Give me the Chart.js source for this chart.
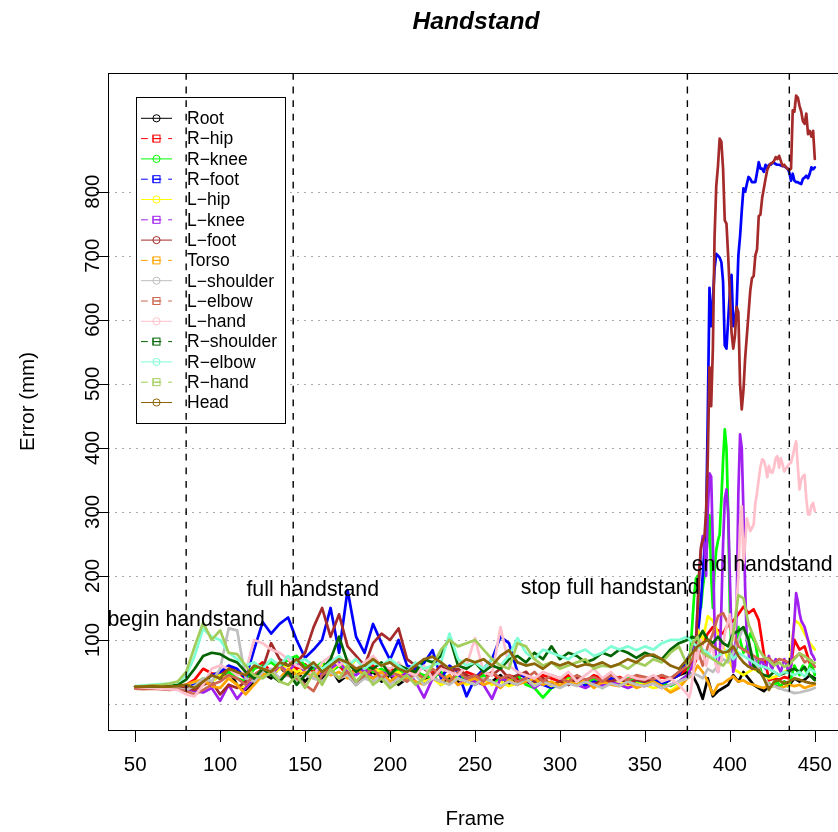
<!DOCTYPE html>
<html><head><meta charset="utf-8">
<script src="https://cdn.jsdelivr.net/npm/chart.js@4.4.1/dist/chart.umd.min.js"></script>
<style>html,body{margin:0;padding:0;overflow:hidden;background:#fff;width:838px;height:832px}canvas{display:block}</style>
</head><body>
<canvas id="c" width="850" height="832" style="width:850px;height:832px"></canvas>
<script>
// ---------- data ----------
const framesMain = [50,55,60,65,70,75,80,85,90,95,100,105,110,115,120,125,130,135,140,145,150,155,160,165,170,175,180,185,190,195,200,205,210,215,220,225,230,235,240,245,250,255,260,265,270,275,280,285,290,295,300,305,310,315,320,325,330,335,340,345,350,355,360,365,370,375];
const framesEndCoarse = [378,381,384,387,390,393,396,399,402,405,408,411,414,417,420,423,426,429,432,435,438,441,444,447,450];
const framesEndFine = [376,377,378,379,380,381,382,383,384,385,386,387,388,389,390,391,392,393,394,395,396,397,398,399,400,401,402,403,404,405,406,407,408,409,410,411,412,413,414,415,416,417,418,419,420,421,422,423,424,425,426,427,428,429,430,431,432,433,434,435,436,437,438,439,440,441,442,443,444,445,446,447,448,449,450];

const seriesNames = ['Root','R\u2212hip','R\u2212knee','R\u2212foot','L\u2212hip','L\u2212knee','L\u2212foot','Torso','L\u2212shoulder','L\u2212elbow','L\u2212hand','R\u2212shoulder','R\u2212elbow','R\u2212hand','Head'];
const seriesColors = ['#000000','#FF0000','#00FF00','#0000FF','#FFFF00','#A020F0','#A52A2A','#FFA500','#BEBEBE','#CD6650','#FFC0CB','#006400','#7FFFD4','#A2CD5A','#8B6508'];

const rootMain = [27,27,26,27,26,27,28,24,33,45, 40,52,30,22,35,48,40,58,45,52, 35,50,40,55,35,45,30,42,50,35, 45,30,40,50,35,45,30,40,35,45, 30,40,35,45,30,40,35,30,40,25, 35,30,40,35,30,40,35,30,38,32, 40,35,30,38,45,50];
const rootEnd = [45,30,8,40,12,20,25,30,45,35,50,40,30,25,20,28,30,25,35,30,40,35,38,45,40];

const rHipMain = [27,28,27,28,27,28,30,38,55,48, 45,58,50,40,55,65,50,60,70,55, 62,50,65,55,60,45,55,50,60,45, 55,50,45,55,40,50,45,55,40,50, 45,40,50,35,45,40,50,35,45,40, 35,45,40,35,45,40,38,42,36,44, 40,35,42,38,45,55];
const rHipEnd = [55,75,95,110,120,115,110,125,130,140,152,142,148,131,79,37,40,38,42,40,100,85,90,64,48];

const rKneeMain = [27,26,27,26,27,26,25,30,40,35, 45,50,40,35,55,60,65,55,70,75, 60,55,65,50,60,55,70,60,50,55, 45,55,40,50,45,40,50,35,45,40, 35,45,30,40,35,45,30,25,10,25, 30,40,35,30,40,25,35,30,40,35, 30,38,32,28,35,45];
const rKneeEnd = [60,90,130,170,195,200,170,150,180,200, 230,260,295,200,150,210,240,255,265,320, 380,429,400,300,150,80,60,70,90,120, 100,90,80,85,90,100,110,105,100,95, 80,65,55,45,40,35,30,32,30,28, 30,32,35,30,28,32,35,30,28,30, 40,50,60,55,50,45,55,60,55,50, 50,60,68,55,45];

const rFootMain = [27,27,26,27,27,28,26,30,35,45, 50,60,55,40,85,128,110,125,135,100, 72,85,100,150,80,178,105,80,125,95, 69,100,60,55,64,84,40,60,50,12, 40,55,70,105,95,50,40,35,30,25, 35,30,40,28,35,30,40,35,30,38, 35,40,32,38,45,70];
const rFootEnd = [75,80,85,90,100,110,130,160,200,240, 280,450,650,590,630,680,703,700,697,690, 660,560,555,600,643,670,590,600,621,700, 730,770,805,800,812,823,820,815,815,815, 830,846,836,836,831,842,836,842,842,845, 845,843,842,842,841,840,840,838,836,830, 817,828,817,815,815,813,812,820,822,825, 821,828,838,835,838];

const lHipMain = [27,26,27,26,27,26,22,20,30,35, 45,40,30,25,40,50,45,55,60,50, 55,45,60,50,65,55,70,60,55,50, 45,50,40,45,35,40,30,35,40,30, 35,40,30,35,28,32,38,30,35,28, 32,38,30,35,28,33,30,35,28,32, 30,25,28,20,30,45];
const lHipEnd = [60,116,100,137,130,110,90,70,55,50,45,50,55,50,45,40,42,45,50,55,131,125,110,95,85];

const lKneeMain = [27,26,27,26,27,26,24,20,18,25, 5,30,8,25,40,55,45,60,50,65, 50,60,45,55,65,50,45,55,40,50, 45,40,50,35,10,40,35,45,30,40, 35,30,8,40,35,30,40,25,35,30, 28,35,30,25,32,28,35,30,25,30, 28,32,25,30,35,45];
const lKneeEnd = [50,55,60,80,100,150,200,240,262,250, 200,300,360,355,250,120,60,50,70,150, 250,320,335,300,200,100,50,60,150,330, 421,400,300,180,100,80,60,55,65,70, 60,55,65,70,60,55,65,75,60,55, 65,70,60,55,50,60,70,65,55,50, 60,100,131,173,160,142,130,125,120,110, 100,90,79,75,69];

const lFootMain = [27,27,26,27,26,27,25,22,30,35, 15,30,25,35,45,55,95,70,60,65, 80,120,150,105,140,90,75,60,95,110, 100,118,70,60,55,45,60,50,55,45, 40,50,45,55,40,45,50,35,40,30, 35,30,40,35,30,38,35,40,32,38, 35,40,45,38,50,58];
const lFootEnd = [60,65,70,75,90,150,210,245,255,260, 300,382,526,465,555,730,809,840,883,878, 836,755,750,700,640,580,555,575,620,612, 500,460,490,540,575,610,645,665,668,700, 710,762,764,790,805,820,834,840,844,845, 848,854,851,856,848,840,842,838,836,834, 836,927,925,950,947,934,925,910,906,922, 890,895,886,895,851];

const torsoMain = [27,26,27,26,27,28,30,35,38,28, 25,40,30,15,30,45,50,40,55,45, 50,40,55,45,50,40,55,45,40,50, 35,45,40,35,30,40,35,45,30,35, 40,30,35,25,38,30,35,40,30,35, 28,35,30,38,25,35,30,28,35,25, 30,35,28,18,25,40];
const torsoEnd = [45,60,50,35,15,30,32,38,43,35,37,32,30,27,25,30,28,25,27,30,28,30,25,28,30];

const lShoulderMain = [27,26,27,26,25,24,22,28,40,35, 55,118,115,40,35,50,55,40,45,35, 45,40,35,50,40,45,30,40,35,45, 30,40,35,45,30,40,35,30,40,35, 30,40,35,28,35,30,40,28,35,30, 25,32,28,35,30,25,32,28,35,30, 28,32,25,30,35,40];
const lShoulderEnd = [48,45,40,55,50,60,70,65,80,100,120,95,70,55,40,30,28,25,22,20,17,18,20,22,25];

const lElbowMain = [24,23,24,23,22,23,20,15,22,30, 35,45,40,30,45,55,50,60,45,40, 30,20,45,55,40,50,35,45,55,40, 50,45,35,50,40,55,45,35,50,40, 45,35,50,40,45,35,40,50,35,45, 40,35,45,38,42,35,45,40,38,45, 42,38,45,40,50,60];
const lElbowEnd = [70,85,60,90,110,137,142,125,110,90,85,80,75,70,69,72,64,70,68,64,72,79,65,70,58];

const lHandMain = [27,26,25,24,23,22,15,12,30,55, 60,55,45,50,100,95,85,80,70,60, 55,45,65,75,60,70,55,65,75,60, 55,65,50,45,60,40,55,50,45,60, 103,50,45,120,60,50,45,40,50,45, 40,50,35,45,55,40,50,35,45,40, 38,45,35,40,30,15];
const lHandEnd = [10,20,40,60,80,70,90,100,80,70, 60,70,80,90,85,70,60,50,60,70, 90,110,120,130,140,110,100,120,160,200, 280,309,220,250,290,280,270,275,280,314, 330,351,370,382,380,370,354,372,362,361, 370,384,387,369,384,375,363,368,371,375, 377,387,400,410,371,335,350,356,358,320, 296,296,310,314,301];

const rShoulderMain = [27,27,28,27,28,30,38,55,75,80, 78,70,65,50,40,55,45,35,50,30, 45,60,55,70,105,65,50,60,55,65, 45,60,55,50,70,65,75,105,60,55, 65,50,60,55,70,75,65,80,70,90, 70,80,75,65,70,80,75,85,80,72, 80,75,70,85,95,100];
const rShoulderEnd = [105,100,114,100,95,105,95,90,110,114,120,100,60,50,45,43,50,45,48,52,55,50,58,45,37];

const rElbowMain = [28,29,30,31,32,34,45,75,118,105, 100,80,70,60,65,55,70,60,75,65, 70,60,55,65,75,60,70,55,65,60, 70,60,50,65,55,60,65,110,70,60, 65,55,70,60,75,103,80,70,85,80, 75,70,80,85,75,80,90,85,90,84, 90,85,95,100,100,105];
const rElbowEnd = [95,90,85,80,70,75,80,85,70,80,75,70,65,60,58,55,50,45,50,48,45,50,43,55,50];

const rHandMain = [27,28,29,30,32,35,50,90,127,100, 115,80,78,60,45,40,50,35,30,45, 25,50,30,55,40,60,35,50,30,40, 25,35,45,30,40,60,85,100,90,95, 100,85,70,60,55,95,90,70,60,65, 55,60,65,70,55,60,58,62,55,65, 60,70,65,80,90,60];
const rHandEnd = [95,105,80,75,70,65,60,70,110,170,165,125,105,85,74,68,60,65,58,62,70,79,75,68,64];

const headMain = [27,27,28,27,27,28,30,25,35,45, 40,55,50,45,60,55,50,65,60,70, 55,65,50,60,70,65,55,60,70,60, 65,55,50,60,70,74,65,55,60,70, 65,70,60,75,84,65,60,63,55,65, 60,65,58,62,60,65,58,63,70,65, 75,77,70,60,55,70];
const headEnd = [80,90,95,100,90,85,80,82,90,75,65,58,55,53,40,22,35,37,32,35,40,38,35,33,32];

const mainValues = [rootMain,rHipMain,rKneeMain,rFootMain,lHipMain,lKneeMain,lFootMain,torsoMain,lShoulderMain,lElbowMain,lHandMain,rShoulderMain,rElbowMain,rHandMain,headMain];
const endValues = [rootEnd,rHipEnd,rKneeEnd,rFootEnd,lHipEnd,lKneeEnd,lFootEnd,torsoEnd,lShoulderEnd,lElbowEnd,lHandEnd,rShoulderEnd,rElbowEnd,rHandEnd,headEnd];
const endFrames = [framesEndCoarse,framesEndCoarse,framesEndFine,framesEndFine,framesEndCoarse,framesEndFine,framesEndFine,framesEndCoarse,framesEndCoarse,framesEndCoarse,framesEndFine,framesEndCoarse,framesEndCoarse,framesEndCoarse,framesEndCoarse];

const xTicks = [50,100,150,200,250,300,350,400,450];
const yTicks = [100,200,300,400,500,600,700,800];
const gridValues = [0,100,200,300,400,500,600,700,800];
const phaseFrames = [80,143,375,435];
const phaseLabels = ['begin handstand','full handstand','stop full handstand','end handstand'];
const phaseLabelX = [80,154.5,329.5,419];
const phaseLabelY = [131,178,181,217];

// ---------- chart ----------
const FONT = '"Liberation Sans", Arial, Helvetica, sans-serif';
const datasets = seriesNames.map((n,i)=>{
  const fr = framesMain.concat(endFrames[i]);
  const vals = mainValues[i].concat(endValues[i]);
  return {label:n, data: fr.map((f,k)=>({x:f,y:vals[k]})), borderColor:seriesColors[i], backgroundColor:seriesColors[i],
    borderWidth:2.7, pointRadius:0, fill:false, tension:0, borderCapStyle:'round', borderJoinStyle:'round', order: seriesNames.length - i};
});

const decor = {
  id:'decor',
  beforeDatasetsDraw(chart){
    const {ctx, chartArea:a, scales:{y}} = chart;
    ctx.save();
    ctx.strokeStyle = '#ababab'; ctx.lineWidth = 1; ctx.setLineDash([2,5]);
    gridValues.forEach(v=>{const py=Math.round(y.getPixelForValue(v))+0.5; ctx.beginPath(); ctx.moveTo(a.left,py); ctx.lineTo(a.right,py); ctx.stroke();});
    ctx.restore();
  },
  afterDatasetsDraw(chart){
    const {ctx, chartArea:a, scales:{x,y}} = chart;
    ctx.save();
    // legend
    const L = {left:136.5, top:97.5, right:285.5, bottom:423.5, y0:118.3, dy:20.3, lx0:141, lx1:172, sx:156.5, tx:187};
    ctx.fillStyle='#fff'; ctx.fillRect(L.left,L.top,L.right-L.left,L.bottom-L.top);
    ctx.strokeStyle='#000'; ctx.lineWidth=1; ctx.setLineDash([]); ctx.strokeRect(L.left,L.top,L.right-L.left,L.bottom-L.top);
    ctx.font = '17.5px '+FONT; ctx.textBaseline='middle'; ctx.textAlign='left';
    seriesNames.forEach((n,i)=>{
      const yy = L.y0 + i*L.dy;
      ctx.strokeStyle = seriesColors[i]; ctx.lineWidth = 1;
      ctx.setLineDash(i%2 ? [6.8,6.8] : []);
      ctx.beginPath(); ctx.moveTo(L.lx0,yy); ctx.lineTo(L.lx1,yy); ctx.stroke();
      ctx.setLineDash([]);
      if (i%2===0){ ctx.beginPath(); ctx.arc(L.sx,yy,3.6,0,Math.PI*2); ctx.stroke(); }
      else { ctx.strokeRect(L.sx-3.5,yy-3.5,7,7); ctx.beginPath(); ctx.moveTo(L.sx-3.5,yy); ctx.lineTo(L.sx+3.5,yy); ctx.moveTo(L.sx-3.5,yy-3.5); ctx.lineTo(L.sx-3.5,yy+3.5); ctx.stroke(); }
      ctx.fillStyle='#000'; ctx.fillText(n, L.tx, yy+1);
    });
    // phase lines
    ctx.strokeStyle='#000'; ctx.lineWidth=1.4; ctx.setLineDash([6.8,6.8]);
    phaseFrames.forEach(f=>{const px=x.getPixelForValue(f); ctx.beginPath(); ctx.moveTo(px,a.top); ctx.lineTo(px,a.bottom); ctx.stroke();});
    ctx.setLineDash([]);
    // phase labels
    ctx.fillStyle='#000'; ctx.font='21.3px '+FONT; ctx.textAlign='center'; ctx.textBaseline='middle';
    phaseLabels.forEach((t,i)=>{ctx.fillText(t, x.getPixelForValue(phaseLabelX[i]), y.getPixelForValue(phaseLabelY[i]));});
    // box
    ctx.strokeStyle='#000'; ctx.lineWidth=1;
    ctx.strokeRect(Math.round(a.left)+0.5, Math.round(a.top)+0.5, a.right-a.left, a.bottom-a.top);
    // ticks
    ctx.beginPath();
    xTicks.forEach(v=>{const px=Math.round(x.getPixelForValue(v))+0.5; ctx.moveTo(px,a.bottom); ctx.lineTo(px,a.bottom+12);});
    yTicks.forEach(v=>{const py=Math.round(y.getPixelForValue(v))+0.5; ctx.moveTo(a.left,py); ctx.lineTo(a.left-12,py);});
    ctx.stroke();
    ctx.font='20.5px '+FONT; ctx.textAlign='center'; ctx.textBaseline='alphabetic';
    xTicks.forEach(v=>ctx.fillText(String(v), x.getPixelForValue(v), 771));
    yTicks.forEach(v=>{ctx.save(); ctx.translate(99, y.getPixelForValue(v)); ctx.rotate(-Math.PI/2); ctx.fillText(String(v),0,0); ctx.restore();});
    // axis titles
    ctx.fillText('Frame', (a.left+a.right)/2, 825);
    ctx.save(); ctx.translate(34,(a.top+a.bottom)/2); ctx.rotate(-Math.PI/2); ctx.fillText('Error (mm)',0,0); ctx.restore();
    // main title
    ctx.font='italic bold 24.6px '+FONT; ctx.textBaseline='middle';
    ctx.fillText('Handstand', 476, 22);
    ctx.restore();
  }
};

new Chart(document.getElementById('c').getContext('2d'), {
  type:'line',
  data:{datasets},
  options:{
    responsive:false, animation:false, devicePixelRatio:1, events:[],
    layout:{padding:{left:108,right:8,top:73,bottom:102}},
    plugins:{legend:{display:false}, tooltip:{enabled:false}, title:{display:false}},
    scales:{
      x:{type:'linear', min:34, max:466, display:false},
      y:{type:'linear', min:-40.6, max:985.3, display:false}
    }
  },
  plugins:[decor]
});
</script>
</body></html>
